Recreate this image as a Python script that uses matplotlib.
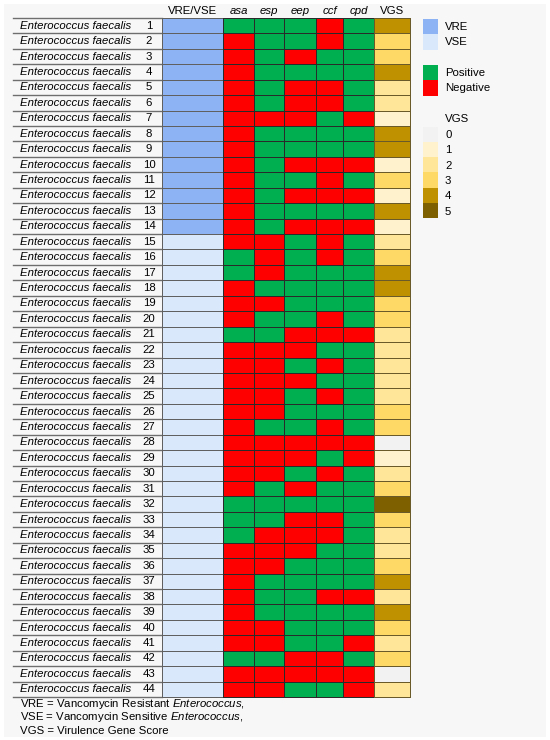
import numpy as np
import matplotlib
matplotlib.use('Agg')
import matplotlib.pyplot as plt
from matplotlib.colors import ListedColormap
from matplotlib.patches import Rectangle

plt.rcParams['font.family'] = ['Liberation Sans', 'DejaVu Sans']
plt.rcParams['mathtext.fontset'] = 'custom'
plt.rcParams['mathtext.rm'] = 'Liberation Sans'
plt.rcParams['mathtext.it'] = 'Liberation Sans:italic'

# Data (1 = positive, 0 = negative)
isolates = list(range(1, 45))
species = 'Enterococcus faecalis'
vre = [1] * 14 + [0] * 30          # 1 = VRE, 0 = VSE
genes = ['asa', 'esp', 'eep', 'ccf', 'cpd']
asa = [1, 0, 0, 0, 0, 0, 0, 0, 0, 0, 0, 0, 0, 0, 0, 1, 1, 0, 0, 0, 1, 0,
       0, 0, 0, 0, 0, 0, 0, 0, 0, 1, 1, 1, 0, 0, 0, 0, 0, 0, 0, 1, 0, 0]
esp = [1, 1, 1, 1, 1, 1, 0, 1, 1, 1, 1, 1, 1, 1, 0, 0, 0, 1, 0, 1, 1, 0,
       0, 0, 0, 0, 1, 0, 0, 0, 1, 1, 1, 0, 0, 0, 1, 1, 1, 0, 0, 1, 0, 0]
eep = [1, 1, 0, 1, 0, 0, 0, 1, 1, 0, 1, 0, 1, 0, 1, 1, 1, 1, 1, 1, 0, 0,
       1, 0, 1, 1, 1, 0, 0, 1, 0, 1, 0, 0, 0, 1, 1, 1, 1, 1, 1, 0, 0, 1]
ccf = [0, 0, 1, 1, 0, 0, 1, 1, 1, 0, 0, 0, 1, 0, 0, 0, 1, 1, 1, 0, 0, 1,
       0, 1, 0, 1, 0, 0, 1, 0, 1, 1, 0, 0, 1, 1, 1, 0, 1, 1, 1, 0, 0, 1]
cpd = [1, 1, 1, 1, 1, 1, 0, 1, 1, 0, 1, 0, 1, 0, 1, 1, 1, 1, 1, 1, 0, 1,
       1, 1, 1, 1, 1, 0, 0, 1, 1, 1, 1, 1, 1, 1, 1, 0, 1, 1, 0, 1, 0, 0]
vgs = [sum(v) for v in zip(asa, esp, eep, ccf, cpd)]

# colours
vre_colors = ['#dae8fc', '#8db3f5']          # VSE, VRE
pn_colors = ['#ff0000', '#00b050']           # negative, positive
vgs_colors = ['#f2f2f2', '#fff2cc', '#ffe699', '#ffd966', '#bf9000', '#7f6000']

# layout (pixels)
W, H = 550, 740
top, bottom = 18, 697
line_x0 = 13
col_edges = [162, 223, 254, 284, 316, 343, 374, 410]
fs = 8.2

fig = plt.figure(figsize=(W / 100, H / 100), dpi=100)
ax = fig.add_axes([0, 0, 1, 1])
ax.set_xlim(0, W)
ax.set_ylim(H, 0)
ax.axis('off')
ax.add_patch(Rectangle((4, 4), 542, 733, facecolor='#f7f7f7', edgecolor='none', zorder=0))

n = len(isolates)
y_edges = np.linspace(top, bottom, n + 1)
y_mid = (y_edges[:-1] + y_edges[1:]) / 2

# row lines in label area
for y in y_edges:
    ax.plot([line_x0, col_edges[0]], [y, y], color='#6e6e6e', lw=1.0, zorder=2)

# VRE/VSE column
ax.pcolormesh(col_edges[:2], y_edges, np.array(vre)[:, None],
              cmap=ListedColormap(vre_colors), vmin=-0.5, vmax=1.5,
              edgecolors='#606060', linewidth=0.7, zorder=3)

# gene columns
gene_mat = np.array([asa, esp, eep, ccf, cpd]).T
ax.pcolormesh(col_edges[1:7], y_edges, gene_mat,
              cmap=ListedColormap(pn_colors), vmin=-0.5, vmax=1.5,
              edgecolors='#2a2a2a', linewidth=0.6, zorder=3)

# VGS column
ax.pcolormesh(col_edges[6:8], y_edges, np.array(vgs)[:, None],
              cmap=ListedColormap(vgs_colors), vmin=-0.5, vmax=5.5,
              edgecolors='#6a5a2a', linewidth=0.7, zorder=3)

# labels
for i, y in zip(isolates, y_mid):
    ax.text(20, y, species, style='italic', fontsize=fs, va='center', ha='left')
    ax.text(149, y, str(i), fontsize=fs, va='center', ha='center')

# header
headers = ['VRE/VSE'] + genes + ['VGS']
for k, h in enumerate(headers):
    xc = (col_edges[k] + col_edges[k + 1]) / 2
    ax.text(xc, 11.5, h, fontsize=fs, ha='center', va='center',
            style='italic' if h in genes else 'normal')

# legend
sw_x, sw_w, sw_h = 423, 15, 15.3
tx = 445
leg_items = [(19, vre_colors[1], 'VRE'), (34.3, vre_colors[0], 'VSE'),
             (65, pn_colors[1], 'Positive'), (80.3, pn_colors[0], 'Negative')]
for y0, c, lab in leg_items:
    ax.add_patch(Rectangle((sw_x, y0), sw_w, sw_h, facecolor=c, edgecolor='none', zorder=3))
    ax.text(tx, y0 + sw_h / 2, lab, fontsize=fs, va='center', ha='left')
ax.text(tx, 119, 'VGS', fontsize=fs, va='center', ha='left')
for s, c in enumerate(vgs_colors):
    y0 = 126.5 + s * sw_h
    ax.add_patch(Rectangle((sw_x, y0), sw_w, sw_h, facecolor=c, edgecolor='none', zorder=3))
    ax.text(tx, y0 + sw_h / 2 + 1, str(s), fontsize=fs, va='center', ha='left')

# footnote
ax.text(20, 704, 'VRE = Vancomycin Resistant $\\it{Enterococcus}$,', fontsize=fs, va='center')
ax.text(20, 717.5, 'VSE = Vancomycin Sensitive $\\it{Enterococcus}$,', fontsize=fs, va='center')
ax.text(20, 731, 'VGS = Virulence Gene Score', fontsize=fs, va='center')

fig.savefig('out.png', dpi=100, facecolor='white')
